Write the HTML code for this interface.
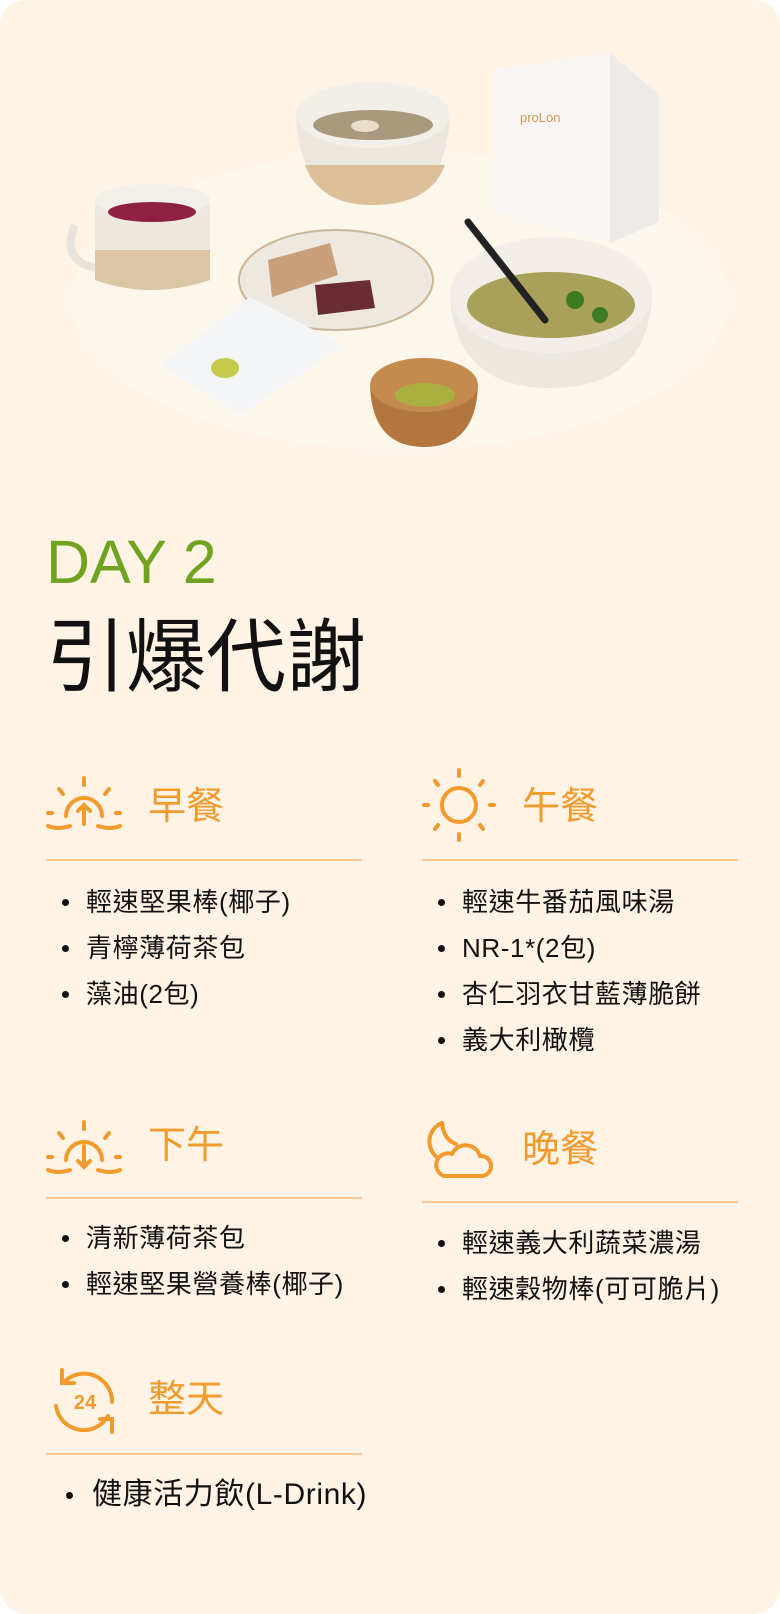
<!DOCTYPE html>
<html><head><meta charset="utf-8"><style>
html,body{margin:0;padding:0;background:#fff;}
#card{position:relative;width:780px;height:1614px;background:#fef3e4;border-radius:26px;overflow:hidden;font-family:"Liberation Sans","Noto Sans CJK TC",sans-serif;}
.abs{position:absolute;}
.day{left:46px;top:532px;font-size:61px;color:#6fa320;line-height:1;}
.title{left:46px;top:618px;font-size:80px;color:#111;line-height:1;}
.sec-title{font-size:38px;color:#f39a2c;line-height:1;}
.line{height:2px;background:#fcc98a;width:316px;}
ul{position:absolute;margin:0;padding:0;list-style:none;}
li{font-size:26px;letter-spacing:0.6px;color:#111;line-height:46px;position:relative;padding-left:40px;white-space:nowrap;}
li:before{content:"";position:absolute;left:16px;top:20px;width:7px;height:7px;border-radius:50%;background:#111;}
svg.icon{position:absolute;overflow:visible;}
</style></head><body>
<div id="card">
<svg class="abs" style="left:0;top:0" width="780" height="480">
  <ellipse cx="400" cy="300" rx="330" ry="150" fill="#fbf6ee" opacity="0.7"/>
  <polygon points="493,70 610,53 659,95 659,222 610,243 493,210" fill="#f7f6f4"/>
  <polygon points="610,53 659,95 659,222 610,243" fill="#ecebe8"/>
  <text x="520" y="122" font-size="13" fill="#d09a50" font-family="Liberation Sans">proLon</text>
  <path d="M296,115 Q300,205 372,205 Q446,205 450,115 Z" fill="#ece6dc"/>
  <path d="M305,165 Q320,205 372,205 Q430,205 445,165 Z" fill="#dcc09a"/>
  <ellipse cx="373" cy="115" rx="77" ry="33" fill="#f2eee8"/>
  <ellipse cx="373" cy="125" rx="60" ry="15" fill="#a99a7e"/>
  <ellipse cx="365" cy="126" rx="14" ry="6" fill="#e8dccb"/>
  <path d="M75,225 Q60,260 95,268" stroke="#e9e3d9" stroke-width="8" fill="none"/>
  <path d="M95,200 L95,280 Q150,300 210,280 L210,200 Z" fill="#ece7df"/>
  <path d="M95,250 L95,280 Q150,300 210,280 L210,250 Z" fill="#dcc6a5"/>
  <ellipse cx="152" cy="200" rx="58" ry="16" fill="#f3efe9"/>
  <ellipse cx="152" cy="212" rx="44" ry="10" fill="#8e2044"/>
  <ellipse cx="336" cy="280" rx="97" ry="50" fill="#ede8e0" stroke="#cdb596" stroke-width="2"/>
  <polygon points="268,260 330,243 338,275 272,297" fill="#c9a07a"/>
  <polygon points="315,285 370,280 375,308 318,315" fill="#6a2c34"/>
  <polygon points="160,365 250,297 343,345 240,415" fill="#f4f5f7"/>
  <ellipse cx="225" cy="368" rx="14" ry="10" fill="#c6c94a"/>
  <path d="M450,295 Q455,388 550,388 Q648,388 652,295 Z" fill="#ece7df"/>
  <ellipse cx="551" cy="295" rx="101" ry="58" fill="#f3efe8"/>
  <ellipse cx="551" cy="305" rx="84" ry="33" fill="#a9a05a"/>
  <line x1="468" y1="222" x2="545" y2="320" stroke="#222" stroke-width="7" stroke-linecap="round"/>
  <circle cx="575" cy="300" r="9" fill="#3e7a22"/><circle cx="600" cy="315" r="8" fill="#3e7a22"/>
  <path d="M370,385 Q372,447 424,447 Q476,447 478,385 Z" fill="#b3763e"/>
  <ellipse cx="424" cy="385" rx="54" ry="27" fill="#c58a4e"/>
  <ellipse cx="425" cy="395" rx="30" ry="12" fill="#a9b040"/>
</svg>

<div class="abs day">DAY 2</div>
<div class="abs title">引爆代謝</div>

<svg class="icon" style="left:46px;top:776px" width="76" height="56" fill="none" stroke="#f39a2c" stroke-width="4" stroke-linecap="round">
  <line x1="38" y1="2" x2="38" y2="9"/><line x1="13" y1="13" x2="17" y2="18"/><line x1="63" y1="13" x2="59" y2="18"/>
  <path d="M20,40 A18,18 0 0 1 56,40"/><line x1="38" y1="48" x2="38" y2="30"/><polyline points="32,35 38,29 44,35"/>
  <line x1="2" y1="37" x2="6" y2="37"/><line x1="70" y1="37" x2="74" y2="37"/>
  <path d="M2,50 Q12,54 24,50"/><path d="M52,50 Q64,54 74,50"/>
</svg>
<div class="abs sec-title" style="left:148px;top:788px">早餐</div>
<div class="abs line" style="left:46px;top:859px"></div>
<ul style="left:46px;top:879px">
<li>輕速堅果棒(椰子)</li>
<li>青檸薄荷茶包</li>
<li>藻油(2包)</li>
</ul>

<svg class="icon" style="left:422px;top:768px" width="74" height="74" fill="none" stroke="#f39a2c" stroke-width="4" stroke-linecap="round">
  <circle cx="37" cy="37" r="17"/>
  <line x1="37" y1="2" x2="37" y2="8"/><line x1="37" y1="66" x2="37" y2="72"/>
  <line x1="2" y1="37" x2="6" y2="37"/><line x1="68" y1="37" x2="72" y2="37"/>
  <line x1="13" y1="13" x2="16" y2="17"/><line x1="61" y1="13" x2="58" y2="17"/>
  <line x1="13" y1="61" x2="16" y2="57"/><line x1="61" y1="61" x2="58" y2="57"/>
</svg>
<div class="abs sec-title" style="left:522px;top:788px">午餐</div>
<div class="abs line" style="left:422px;top:859px"></div>
<ul style="left:422px;top:879px">
<li>輕速牛番茄風味湯</li>
<li>NR-1*(2包)</li>
<li>杏仁羽衣甘藍薄脆餅</li>
<li>義大利橄欖</li>
</ul>

<svg class="icon" style="left:46px;top:1120px" width="76" height="56" fill="none" stroke="#f39a2c" stroke-width="4" stroke-linecap="round">
  <line x1="38" y1="2" x2="38" y2="9"/><line x1="13" y1="13" x2="17" y2="18"/><line x1="63" y1="13" x2="59" y2="18"/>
  <path d="M20,40 A18,18 0 0 1 56,40"/><line x1="38" y1="26" x2="38" y2="46"/><polyline points="32,41 38,47 44,41"/>
  <line x1="2" y1="37" x2="6" y2="37"/><line x1="70" y1="37" x2="74" y2="37"/>
  <path d="M2,50 Q12,54 24,50"/><path d="M52,50 Q64,54 74,50"/>
</svg>
<div class="abs sec-title" style="left:148px;top:1127px">下午</div>
<div class="abs line" style="left:46px;top:1197px"></div>
<ul style="left:46px;top:1215px">
<li>清新薄荷茶包</li>
<li>輕速堅果營養棒(椰子)</li>
</ul>

<svg class="icon" style="left:422px;top:1120px" width="72" height="60" fill="none" stroke="#f39a2c" stroke-width="4" stroke-linecap="round" stroke-linejoin="round">
  <path d="M20,3 A20,20 0 0 0 16,38"/><path d="M20,3 Q22,20 34,24"/>
  <path d="M22,56 L60,56 A10,10 0 0 0 58,36 A15,15 0 0 0 30,34 A11,11 0 0 0 22,56 Z"/>
</svg>
<div class="abs sec-title" style="left:522px;top:1131px">晚餐</div>
<div class="abs line" style="left:422px;top:1201px"></div>
<ul style="left:422px;top:1220px">
<li>輕速義大利蔬菜濃湯</li>
<li>輕速穀物棒(可可脆片)</li>
</ul>

<svg class="icon" style="left:50px;top:1366px" width="70" height="70" fill="none" stroke="#f39a2c" stroke-width="4" stroke-linecap="round">
  <path d="M14,16 A28,28 0 0 1 62,36"/><polyline points="12,4 12,17 24,17"/>
  <path d="M58,50 A28,28 0 0 1 6,40"/><polyline points="62,66 62,53 50,53"/>
  <text x="35" y="43" font-size="20" font-weight="bold" fill="#f39a2c" stroke="none" text-anchor="middle" font-family="Liberation Sans">24</text>
</svg>
<div class="abs sec-title" style="left:148px;top:1381px">整天</div>
<div class="abs line" style="left:46px;top:1453px"></div>
<ul style="left:50px;top:1472px">
<li style="font-size:30px;padding-left:42px">健康活力飲(L-Drink)</li>
</ul>
</div>
</body></html>
